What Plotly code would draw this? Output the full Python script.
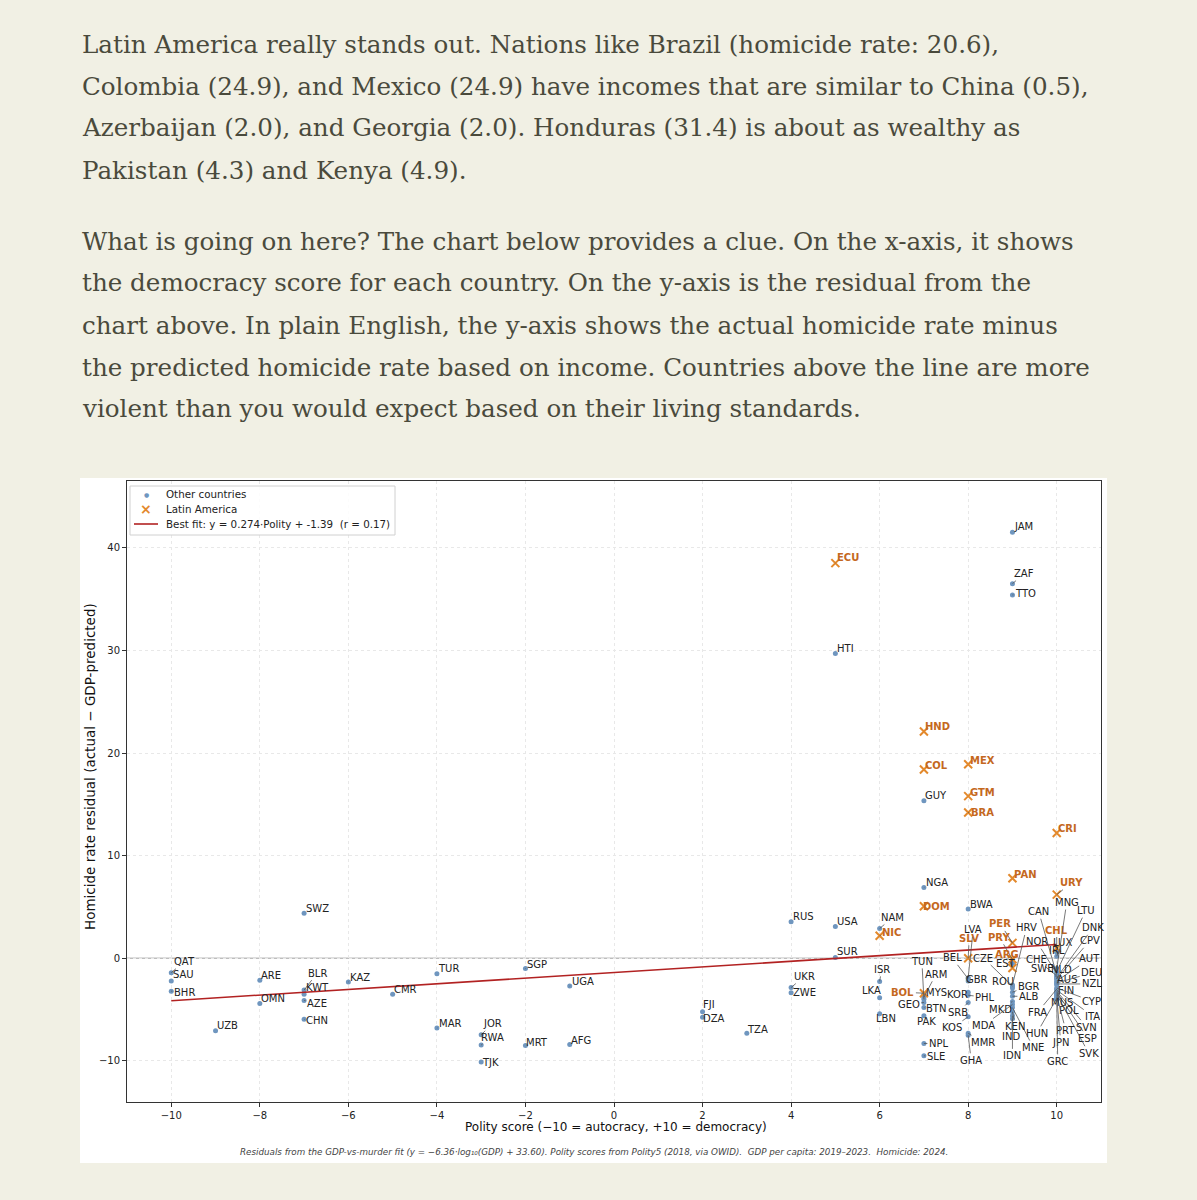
import plotly.graph_objects as go

# ---- data ----
COUNTRIES = [
    "QAT", "SAU", "BHR", "UZB", "ARE", "OMN", "BLR", "KWT", "AZE", "CHN", "SWZ",
    "KAZ", "CMR", "TUR", "MAR", "JOR", "RWA", "TJK", "SGP", "MRT", "UGA", "AFG",
    "FJI", "DZA", "TZA", "RUS", "UKR", "ZWE", "USA", "SUR", "HTI", "ECU",
    "NAM", "NIC", "ISR", "LKA", "LBN",
    "NGA", "DOM", "GUY", "COL", "HND", "BOL", "MYS", "ARM", "TUN", "GEO", "BTN", "PAK", "NPL", "SLE",
    "MEX", "GTM", "BRA", "BWA", "SLV", "LVA", "BEL", "GBR", "KOR", "PHL", "SRB", "KOS", "MMR", "GHA",
    "JAM", "ZAF", "TTO", "PAN", "PER", "PRY", "ARG", "EST", "CZE", "ROU", "HRV", "BGR", "ALB",
    "MKD", "MDA", "MNE", "KEN", "IND", "IDN",
    "CRI", "URY", "CHL", "IRL", "LUX", "MNG", "LTU", "CAN", "NOR", "CHE", "SWE", "CPV", "DNK",
    "NLD", "AUT", "AUS", "DEU", "NZL", "FIN", "CYP", "FRA", "ITA", "SVN", "ESP", "POL", "SVK",
    "PRT", "MUS", "JPN", "HUN", "GRC",
]
POLITY = [
    -10, -10, -10, -9, -8, -8, -7, -7, -7, -7, -7,
    -6, -5, -4, -4, -3, -3, -3, -2, -2, -1, -1,
    2, 2, 3, 4, 4, 4, 5, 5, 5, 5,
    6, 6, 6, 6, 6,
    7, 7, 7, 7, 7, 7, 7, 7, 7, 7, 7, 7, 7, 7,
    8, 8, 8, 8, 8, 8, 8, 8, 8, 8, 8, 8, 8, 8,
    9, 9, 9, 9, 9, 9, 9, 9, 9, 9, 9, 9, 9,
    9, 9, 9, 9, 9, 9,
    10, 10, 10, 10, 10, 10, 10, 10, 10, 10, 10, 10, 10,
    10, 10, 10, 10, 10, 10, 10, 10, 10, 10, 10, 10, 10,
    10, 10, 10, 10, 10,
]
RESIDUAL = [
    -1.4, -2.2, -3.2, -7.05, -2.15, -4.4, -3.1, -3.5, -4.1, -5.95, 4.4,
    -2.3, -3.5, -1.5, -6.8, -7.45, -8.45, -10.1, -1.0, -8.5, -2.7, -8.4,
    -5.2, -5.75, -7.3, 3.55, -2.85, -3.35, 3.1, 0.07, 29.7, 38.5,
    2.9, 2.2, -2.25, -3.85, -5.4,
    6.9, 5.07, 15.35, 18.4, 22.1, -3.4, -3.5, -3.8, -4.0, -4.3, -4.8, -5.6, -8.3, -9.5,
    18.9, 15.8, 14.2, 4.8, 0.0, -1.9, -2.0, -2.2, -3.3, -3.6, -4.3, -5.7, -7.3, -7.5,
    41.5, 36.5, 35.4, 7.8, 1.5, -0.1, -0.95, -0.5, -2.7, -2.9, -2.6, -3.3, -3.7,
    -4.2, -4.5, -4.8, -5.2, -5.6, -5.9,
    12.2, 6.2, 1.0, 0.6, 0.2, -1.0, -1.3, -1.6, -1.5, -1.7, -1.8, -2.0, -1.9,
    -2.0, -2.2, -2.3, -2.4, -2.5, -2.6, -2.9, -3.0, -3.1, -3.2, -3.3, -3.4, -3.5,
    -3.6, -3.7, -3.8, -3.9, -4.0,
]
LATAM = {"ECU", "NIC", "DOM", "COL", "HND", "BOL", "MEX", "GTM", "BRA", "SLV",
         "PAN", "PER", "PRY", "ARG", "CRI", "URY", "CHL"}

FIT_X = [-10, 10]
FIT_Y = [-4.13, 1.35]
LEGEND_LABELS = ["Other countries", "Latin America",
                 "Best fit: y = 0.274·Polity + -1.39  (r = 0.17)"]

X_TICKS = [-10, -8, -6, -4, -2, 0, 2, 4, 6, 8, 10]
Y_TICKS = [-10, 0, 10, 20, 30, 40]

PARAGRAPHS = [
    ["Latin America really stands out. Nations like Brazil (homicide rate: 20.6),",
     "Colombia (24.9), and Mexico (24.9) have incomes that are similar to China (0.5),",
     "Azerbaijan (2.0), and Georgia (2.0). Honduras (31.4) is about as wealthy as",
     "Pakistan (4.3) and Kenya (4.9)."],
    ["What is going on here? The chart below provides a clue. On the x-axis, it shows",
     "the democracy score for each country. On the y-axis is the residual from the",
     "chart above. In plain English, the y-axis shows the actual homicide rate minus",
     "the predicted homicide rate based on income. Countries above the line are more",
     "violent than you would expect based on their living standards."],
]
CAPTION = ("Residuals from the GDP-vs-murder fit (y = −6.36·log₁₀(GDP) + 33.60). "
           "Polity scores from Polity5 (2018, via OWID).  GDP per capita: 2019–2023.  Homicide: 2024.")

# label offsets in pixels (text centre relative to the point), like adjustText placed them
LABEL_OFFSETS = {
    "QAT": (13, -11), "SAU": (12, -6), "BHR": (13, 1), "UZB": (12, -5), "ARE": (11, -5),
    "OMN": (13, -5), "BLR": (13, -17), "KWT": (13, -7), "AZE": (13, 3), "CHN": (13, 1),
    "SWZ": (13, -5), "KAZ": (12, -4), "CMR": (13, -5), "TUR": (12, -5), "MAR": (13, -5),
    "JOR": (11, -11), "RWA": (11, -8), "TJK": (9, 1), "SGP": (12, -4), "MRT": (12, -3),
    "UGA": (13, -5), "AFG": (11, -4), "FJI": (6, -7), "DZA": (11, 1), "TZA": (11, -4),
    "RUS": (12, -5), "UKR": (13, -11), "ZWE": (13, 0), "USA": (12, -5), "SUR": (12, -6),
    "HTI": (10, -5), "ECU": (13, -6), "NAM": (13, -11), "NIC": (12, -3), "ISR": (2, -12),
    "LKA": (-8, -7), "LBN": (6, 5), "NGA": (13, -5), "DOM": (13, 0), "GUY": (12, -5),
    "COL": (13, -4), "HND": (14, -5), "BOL": (-21, -1), "MYS": (13, -2), "ARM": (12, -23),
    "TUN": (-2, -38), "GEO": (-15, 2), "BTN": (12, 1), "PAK": (3, 6), "NPL": (15, 0),
    "SLE": (12, 1), "MEX": (14, -4), "GTM": (14, -4), "BRA": (14, 0), "BWA": (13, -5),
    "SLV": (1, -20), "LVA": (5, -48), "BEL": (-16, -21), "GBR": (9, -1), "KOR": (-11, 2),
    "PHL": (17, 2), "SRB": (-10, 10), "KOS": (-16, 11), "MMR": (15, 9), "GHA": (3, 25),
    "JAM": (11, -6), "ZAF": (12, -10), "TTO": (13, -1), "PAN": (13, -4), "PER": (-12, -19),
    "PRY": (-13, -22), "ARG": (-5, -14), "EST": (-6, 0), "CZE": (-29, -28), "ROU": (-9, -7),
    "HRV": (14, -57), "BGR": (16, -6), "ALB": (16, 0), "MKD": (-12, 8), "MDA": (-29, 21),
    "MNE": (21, 40), "KEN": (3, 15), "IND": (-1, 21), "IDN": (0, 37),
    "CRI": (11, -5), "URY": (15, -12), "CHL": (0, -18), "IRL": (0, -2), "LUX": (6, -14),
    "MNG": (10, -66), "LTU": (29, -61), "CAN": (-18, -63), "NOR": (-20, -32),
    "CHE": (-20, -16), "SWE": (-14, -8), "CPV": (33, -38), "DNK": (36, -50),
    "NLD": (5, -9), "AUT": (33, -22), "AUS": (11, -2), "DEU": (35, -10), "NZL": (35, 0),
    "FIN": (9, 6), "CYP": (35, 13), "FRA": (-19, 23), "ITA": (36, 26), "SVN": (30, 36),
    "ESP": (31, 46), "POL": (12, 17), "SVK": (32, 59), "PRT": (9, 35), "MUS": (5, 6),
    "JPN": (4, 45), "HUN": (-20, 35), "GRC": (1, 62),
}

# ---- styling ----
W, H = 1197, 1200
PL, PR, PT, PB = 127, 1101, 481, 1102
BG = "#f1f0e4"
TEXT = "#4a4a3c"
BLUE = "#6f96bf"
ORANGE = "#e3892c"
RED = "#b22222"
LATAM_TEXT = "#c4681e"
SANS = "DejaVu Sans"


def px_to_paper(px, py):
    return (px - PL) / (PR - PL), (PB - py) / (PB - PT)


def text_at(px, py, text, font, xanchor="center", **kw):
    xp, yp = px_to_paper(px, py)
    return dict(x=xp, y=yp, xref="paper", yref="paper", xanchor=xanchor, yanchor="middle",
                text=text, showarrow=False, font=font, **kw)


other = [i for i, c in enumerate(COUNTRIES) if c not in LATAM]
latam = [i for i, c in enumerate(COUNTRIES) if c in LATAM]

fig = go.Figure()

fig.add_trace(go.Scatter(
    x=[POLITY[i] for i in other], y=[RESIDUAL[i] for i in other],
    mode="markers", name=LEGEND_LABELS[0],
    marker=dict(color=BLUE, size=5, line=dict(width=0)),
))
fig.add_trace(go.Scatter(
    x=[POLITY[i] for i in latam], y=[RESIDUAL[i] for i in latam],
    mode="markers", name=LEGEND_LABELS[1],
    marker=dict(symbol="x-thin", color=ORANGE, size=8, line=dict(width=2, color=ORANGE)),
))
fig.add_trace(go.Scatter(
    x=FIT_X, y=FIT_Y, mode="lines", name=LEGEND_LABELS[2],
    line=dict(color=RED, width=1.6),
))

annotations = []
for c, xv, yv in zip(COUNTRIES, POLITY, RESIDUAL):
    dx, dy = LABEL_OFFSETS.get(c, (12, -5))
    is_la = c in LATAM
    annotations.append(dict(
        x=xv, y=yv, ax=dx, ay=dy, text=f"<b>{c}</b>" if is_la else c,
        showarrow=True, arrowhead=0, arrowwidth=0.8, arrowcolor="#555555", standoff=0,
        font=dict(family=SANS, size=10, color=LATAM_TEXT if is_la else "#222222"),
    ))

# article text above the chart
line_y = [[44, 86, 128, 170], [241, 283, 325, 367, 409]]
serif = dict(family="DejaVu Serif", size=24.6, color=TEXT)
for para, ys in zip(PARAGRAPHS, line_y):
    for txt, py in zip(para, ys):
        annotations.append(text_at(80, py, txt, serif, xanchor="left"))

# axis titles and caption
annotations.append(text_at(616, 1127, "Polity score (−10 = autocracy, +10 = democracy)",
                           dict(family=SANS, size=12, color="#111")))
annotations.append(text_at(90, 767, "Homicide rate residual (actual − GDP-predicted)",
                           dict(family=SANS, size=13.5, color="#111"), textangle=-90))
annotations.append(text_at(594, 1152, f"<i>{CAPTION}</i>",
                           dict(family=SANS, size=8.75, color="#444")))

# hand-drawn legend box (matplotlib style, compact rows)
leg_font = dict(family=SANS, size=10.3, color="#222")
annotations.append(text_at(164, 494, LEGEND_LABELS[0], leg_font, xanchor="left"))
annotations.append(text_at(164, 509, LEGEND_LABELS[1], leg_font, xanchor="left"))
annotations.append(text_at(164, 524, LEGEND_LABELS[2], leg_font, xanchor="left"))
annotations.append(text_at(146, 494, "●", dict(family=SANS, size=6, color=BLUE)))
annotations.append(text_at(146, 509, "<b>×</b>", dict(family=SANS, size=14, color=ORANGE)))

x0, y1 = px_to_paper(80, 478)
x1, y0 = px_to_paper(1107, 1163)
lx0, ly1 = px_to_paper(130, 486)
lx1, ly0 = px_to_paper(395, 535)
sx0, sy = px_to_paper(134, 524)
sx1, _ = px_to_paper(158, 524)
shapes = [
    dict(type="rect", xref="paper", yref="paper", x0=x0, x1=x1, y0=y0, y1=y1,
         fillcolor="white", line=dict(width=0), layer="below"),
    dict(type="line", xref="paper", yref="y", x0=0, x1=1, y0=0, y1=0,
         line=dict(color="#bdbdbd", width=1.5), layer="below"),
    dict(type="rect", xref="paper", yref="paper", x0=lx0, x1=lx1, y0=ly0, y1=ly1,
         fillcolor="rgba(255,255,255,0.85)", line=dict(color="#d0d0d0", width=1), layer="above"),
    dict(type="line", xref="paper", yref="paper", x0=sx0, x1=sx1, y0=sy, y1=sy,
         line=dict(color=RED, width=1.6), layer="above"),
]

axis_common = dict(
    showline=True, mirror=True, linecolor="#333333", linewidth=1,
    ticks="outside", ticklen=4, tickcolor="#333333",
    showgrid=True, gridcolor="#e8e8e8", griddash="dot", gridwidth=1,
    zeroline=False, tickfont=dict(family=SANS, size=10, color="#222"),
)

fig.update_layout(
    width=W, height=H,
    paper_bgcolor=BG, plot_bgcolor="white",
    margin=dict(l=PL, r=W - PR, t=PT, b=H - PB, autoexpand=False),
    xaxis=dict(range=[-11, 11], tickvals=X_TICKS,
               ticktext=[str(v).replace("-", "−") for v in X_TICKS], **axis_common),
    yaxis=dict(range=[-14, 46.5], tickvals=Y_TICKS,
               ticktext=[str(v).replace("-", "−") for v in Y_TICKS], **axis_common),
    annotations=annotations,
    shapes=shapes,
    showlegend=False,
)

fig.write_html(
    "out.html",
    config={"displayModeBar": False},
    post_script="document.body.style.margin='0';document.body.style.background='%s';" % BG,
)
